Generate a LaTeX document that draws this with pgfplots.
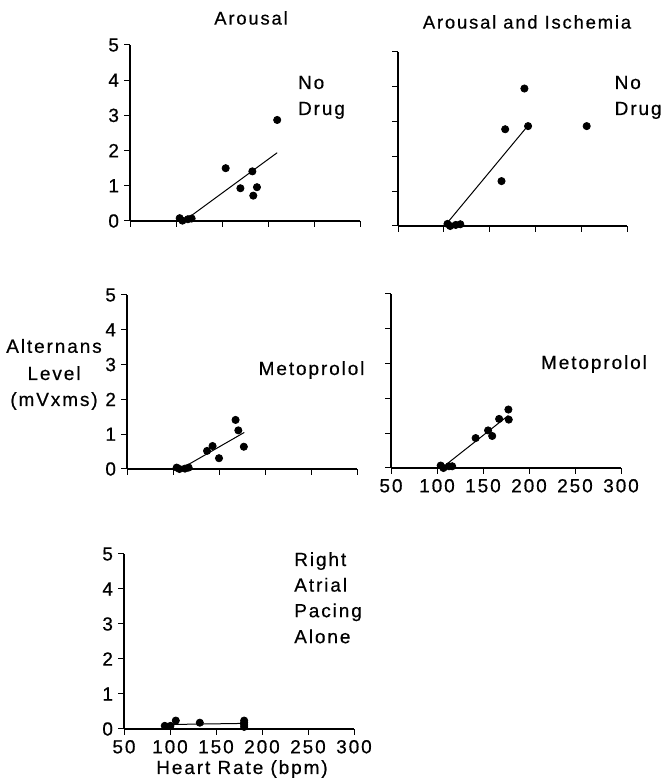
\documentclass[border=0pt]{standalone}
\usepackage{fontspec}
\setmainfont{Liberation Sans}[LetterSpace=10, FakeBold=0.5]
\usepackage{pgfplots}
\pgfplotsset{compat=1.18}

\pgfplotsset{
  panel/.style={
    scale only axis, width=115pt, height=87pt,
    axis lines=left, axis line style={-, line width=0.6pt},
    xmin=50, xmax=300, ymin=0, ymax=5,
    xtick={50,100,...,300}, ytick={0,1,...,5},
    tick align=outside, major tick length=3pt,
    tick style={black, line width=0.5pt},
    ticklabel style={font=\fontsize{9.5}{10}\selectfont},
    xticklabel style={yshift=1pt},
    yticklabel style={xshift=1pt},
    /pgf/number format/assume math mode=true,
    clip=false, anchor=south west,
  },
  dots/.style={only marks, mark=*, mark size=1.8pt, black},
  fit/.style={no marks, black, line width=0.5pt},
}
\newcommand{\lbl}{\fontsize{9.5}{10}\selectfont}

\begin{document}
\begin{tikzpicture}
\path[use as bounding box] (0,0) rectangle (332pt,390pt);

% Arousal, no drug
\begin{axis}[panel, at={(65pt,279.5pt)}, width=115pt, height=88pt, xticklabels={}]
\addplot[dots] coordinates {(104,0.08) (107,0.01) (113,0.05) (117,0.07) (154,1.50)
  (170,0.93) (183,1.41) (188,0.96) (184,0.72) (210,2.87)};
\addplot[fit] coordinates {(115,0.12) (210,1.94)};
\end{axis}

% Arousal and ischemia, no drug
\begin{axis}[panel, at={(199pt,277pt)}, width=114.5pt, xticklabels={}, yticklabels={}]
\addplot[dots] coordinates {(104,0.06) (107,0) (113,0.03) (118,0.05) (188,3.95)
  (167,2.78) (192,2.87) (256,2.87) (163,1.29)};
\addplot[fit] coordinates {(103.5,0.08) (190.5,2.84)};
\end{axis}

% Arousal, metoprolol
\begin{axis}[panel, at={(63.5pt,155.5pt)}, xticklabels={}]
\addplot[dots] coordinates {(104,0.04) (107,0) (113,0.01) (117,0.04) (137,0.52)
  (143,0.66) (150,0.31) (168,1.41) (171,1.11) (177,0.64)};
\addplot[fit] coordinates {(115.5,0.11) (177.5,1.05)};
\end{axis}

% Arousal and ischemia, metoprolol
\begin{axis}[panel, at={(195.5pt,156pt)}, yticklabels={}]
\addplot[dots] coordinates {(104,0.07) (107,0) (113,0.05) (116.5,0.05) (142,0.86)
  (155.5,1.08) (160,0.92) (167.5,1.41) (177.6,1.68) (178,1.39)};
\addplot[fit] coordinates {(109.5,0.09) (177.6,1.51)};
\end{axis}

% Right atrial pacing alone
\begin{axis}[panel, at={(62pt,25.5pt)}, height=87.5pt]
\addplot[dots] coordinates {(94.3,0.09) (100.5,0.09) (106.3,0.24) (132.4,0.18)
  (180.6,0.24) (180.6,0.18) (180.6,0.12) (180.6,0.06)};
\addplot[fit] coordinates {(104,0.13) (180.6,0.16)};
\end{axis}

% titles and labels
\node[font=\fontsize{9.2}{10}\selectfont] at (125.5pt,381pt) {Arousal};
\node[font=\fontsize{9.2}{10}\selectfont] at (263.5pt,379pt) {Arousal and Ischemia};

\node[anchor=base west, font=\lbl] at (145.5pt,345.5pt) {No};
\node[anchor=base west, font=\lbl] at (145.5pt,332.5pt) {Drug};
\node[anchor=base west, font=\lbl] at (303.8pt,345.5pt) {No};
\node[anchor=base west, font=\lbl] at (303.8pt,332.5pt) {Drug};
\node[anchor=base west, font=\lbl] at (125.8pt,202.5pt) {Metoprolol};
\node[anchor=base west, font=\lbl] at (267pt,205.5pt) {Metoprolol};

\node[anchor=base west, font=\lbl] at (143.6pt,107pt) {Right};
\node[anchor=base west, font=\lbl] at (143.6pt,94.2pt) {Atrial};
\node[anchor=base west, font=\lbl] at (143.6pt,81.4pt) {Pacing};
\node[anchor=base west, font=\lbl] at (143.6pt,68.4pt) {Alone};

\node[anchor=base, font=\lbl] at (27pt,213.6pt) {Alternans};
\node[anchor=base, font=\lbl] at (27pt,200pt) {Level};
\node[anchor=base, font=\lbl] at (27pt,187pt) {(mVxms)};

\node[anchor=base, font=\lbl] at (121pt,3pt) {Heart Rate (bpm)};
\end{tikzpicture}
\end{document}
